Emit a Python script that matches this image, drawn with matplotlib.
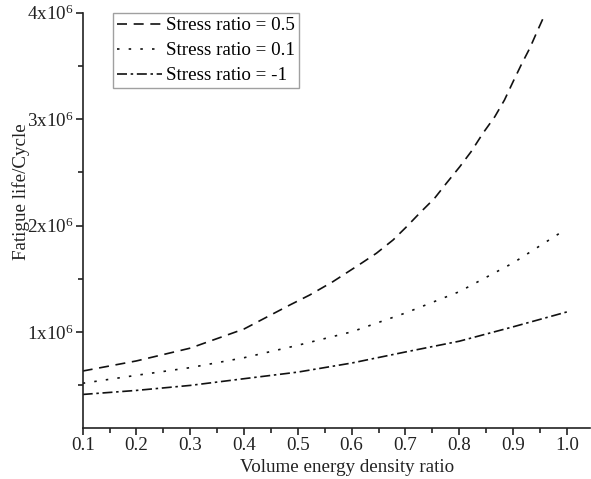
import matplotlib
matplotlib.use("Agg")
import matplotlib.pyplot as plt
from matplotlib.ticker import MultipleLocator, FixedLocator

plt.rcParams['font.family'] = ['Liberation Serif', 'DejaVu Serif']
plt.rcParams['mathtext.fontset'] = 'custom'
plt.rcParams['mathtext.rm'] = 'Liberation Serif'
plt.rcParams['mathtext.default'] = 'regular'

# Data
x_r05 = [0.1, 0.2, 0.3, 0.4, 0.485, 0.522, 0.565, 0.618, 0.646, 0.677, 0.702, 0.726, 0.754,
         0.776, 0.801, 0.822, 0.844, 0.866, 0.884, 0.900, 0.915, 0.931, 0.946, 0.960]
y_r05 = [0.635e6, 0.73e6, 0.85e6, 1.03e6, 1.255e6, 1.349e6, 1.474e6, 1.647e6, 1.741e6, 1.866e6,
         1.990e6, 2.116e6, 2.257e6, 2.398e6, 2.554e6, 2.695e6, 2.868e6, 3.023e6, 3.180e6,
         3.352e6, 3.509e6, 3.666e6, 3.838e6, 3.994e6]

x_r01 = [0.1, 0.2, 0.3, 0.4, 0.5, 0.6, 0.7, 0.8, 0.9, 0.99]
y_r01 = [0.52e6, 0.595e6, 0.667e6, 0.76e6, 0.877e6, 1.003e6, 1.18e6, 1.38e6, 1.65e6, 1.94e6]

x_rm1 = [0.1, 0.2, 0.3, 0.4, 0.5, 0.6, 0.7, 0.8, 0.9, 1.0]
y_rm1 = [0.415e6, 0.453e6, 0.5e6, 0.563e6, 0.625e6, 0.71e6, 0.814e6, 0.915e6, 1.05e6, 1.19e6]

labels = ["Stress ratio = 0.5", "Stress ratio = 0.1", "Stress ratio = -1"]
x_ticks = [0.1, 0.2, 0.3, 0.4, 0.5, 0.6, 0.7, 0.8, 0.9, 1.0]
x_tick_labels = ["0.1", "0.2", "0.3", "0.4", "0.5", "0.6", "0.7", "0.8", "0.9", "1.0"]
y_ticks = [1e6, 2e6, 3e6, 4e6]
y_tick_labels = ["1x10$^6$", "2x10$^6$", "3x10$^6$", "4x10$^6$"]

FS = 13.7

fig = plt.figure(figsize=(5.91, 4.79), dpi=100)
ax = fig.add_axes([82.7/591, 1-428/479, (590-82.7)/591, (428-12.7)/479])

lw = 1.2
ax.plot(x_r05, y_r05, color='#111111', lw=lw, linestyle=(0, (6, 4)), label=labels[0])
ax.plot(x_r01, y_r01, color='#111111', lw=lw, linestyle=(0, (1.5, 5.5)), label=labels[1])
ax.plot(x_rm1, y_rm1, color='#111111', lw=lw, linestyle=(0, (6, 2.2, 1.5, 2.2)), label=labels[2])

ax.set_xlim(0.1, 1.043)
ax.set_ylim(0.1e6, 4.0e6)

ax.xaxis.set_major_locator(FixedLocator(x_ticks))
ax.set_xticklabels(x_tick_labels)
ax.xaxis.set_minor_locator(MultipleLocator(0.05))
ax.yaxis.set_major_locator(FixedLocator(y_ticks))
ax.set_yticklabels(y_tick_labels)
ax.yaxis.set_minor_locator(FixedLocator([0.5e6, 1.5e6, 2.5e6, 3.5e6]))

for s in ['top', 'right']:
    ax.spines[s].set_visible(False)
for s in ['left', 'bottom']:
    ax.spines[s].set_linewidth(1.2)
    ax.spines[s].set_color('#222222')

ax.tick_params(which='major', direction='out', length=5, width=1.2, labelsize=FS, colors='#222222', pad=1.5)
ax.tick_params(which='minor', direction='out', length=3.5, width=1.2, colors='#222222')

ax.set_xlabel("Volume energy density ratio", fontsize=FS, color='#222222')
ax.set_ylabel("Fatigue life/Cycle", fontsize=FS, color='#222222')
ax.xaxis.set_label_coords(0.521, -0.075)
ax.yaxis.set_label_coords(-0.103, 0.568)

leg = ax.legend(loc='upper left', bbox_to_anchor=((113-82.7)/507.3, 0.9985), fontsize=FS,
                frameon=True, fancybox=False, edgecolor='#888888', handlelength=2.4,
                handletextpad=0.2, borderpad=0.2, labelspacing=0.4, borderaxespad=0)
leg.get_frame().set_linewidth(1.0)

fig.savefig("out.png", dpi=100)
